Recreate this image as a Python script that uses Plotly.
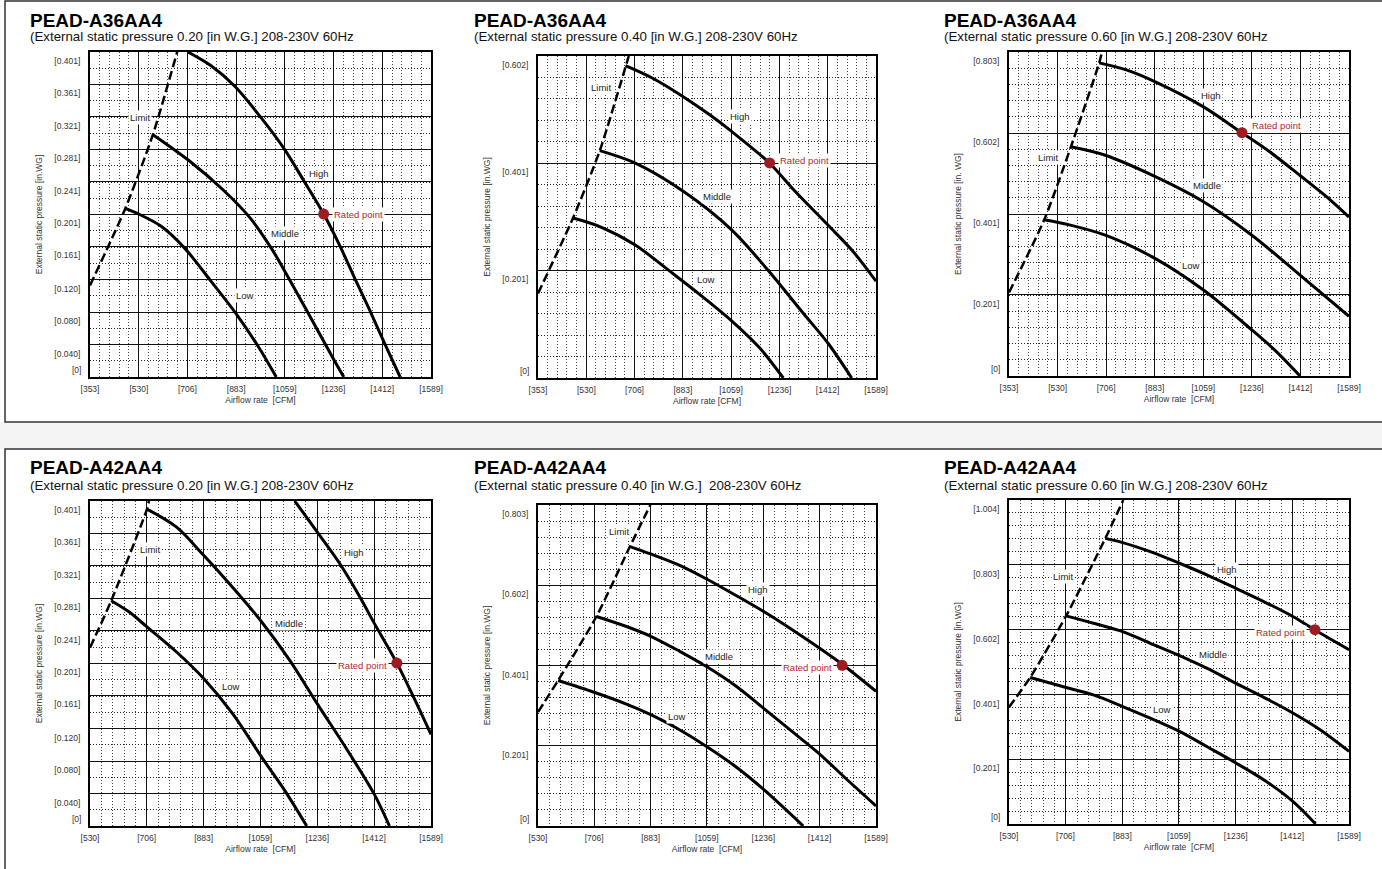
import plotly.graph_objects as go

W, H = 1382, 869
FONT = "Liberation Sans, Arial, Helvetica, sans-serif"

# ---------------- text ----------------
MODELS = ["PEAD-A36AA4", "PEAD-A36AA4", "PEAD-A36AA4",
          "PEAD-A42AA4", "PEAD-A42AA4", "PEAD-A42AA4"]
SUBTITLES = [
    "(External static pressure 0.20 [in W.G.] 208-230V 60Hz",
    "(External static pressure 0.40 [in W.G.] 208-230V 60Hz",
    "(External static pressure 0.60 [in W.G.] 208-230V 60Hz",
    "(External static pressure 0.20 [in W.G.] 208-230V 60Hz",
    "(External static pressure 0.40 [in W.G.]\u00a0 208-230V 60Hz",
    "(External static pressure 0.60 [in W.G.] 208-230V 60Hz",
]
X_TITLES = ["Airflow rate\u00a0 [CFM]", "Airflow rate [CFM]", "Airflow rate\u00a0 [CFM]",
            "Airflow rate\u00a0 [CFM]", "Airflow rate\u00a0 [CFM]", "Airflow rate\u00a0 [CFM]"]
Y_TITLES = ["External static pressure [in.WG]", "External static pressure [in.WG]",
            "External static pressure [in. WG]", "External static pressure [in.WG]",
            "External static pressure [in.WG]", "External static pressure [in.WG]"]
CURVE_NAMES = ["Limit", "High", "Middle", "Low"]

# ---------------- ticks ----------------
XTICKS_A36 = [353, 530, 706, 883, 1059, 1236, 1412, 1589]
XTICKS_A42 = [530, 706, 883, 1059, 1236, 1412, 1589]
YTICKS_100PA = [0, 0.040, 0.080, 0.120, 0.161, 0.201, 0.241, 0.281, 0.321, 0.361, 0.401]
YTICKS_150PA = [0, 0.201, 0.401, 0.602]
YTICKS_200PA = [0, 0.201, 0.401, 0.602, 0.803]
YTICKS_250PA = [0, 0.201, 0.401, 0.602, 0.803, 1.004]

# ---------------- data: PEAD-A36AA4, 0.20 ----------------
A36_020_LIMIT_CFM = [353, 481, 581, 669]
A36_020_LIMIT_WG = [0.113, 0.208, 0.299, 0.401]
A36_020_HIGH_CFM = [708, 792, 877, 973, 1060, 1130, 1200, 1257, 1311, 1366, 1420, 1477]
A36_020_HIGH_WG = [0.401, 0.384, 0.359, 0.320, 0.280, 0.241, 0.201, 0.163, 0.123, 0.083, 0.042, 0.0]
A36_020_MID_CFM = [581, 708, 835, 934, 1010, 1060, 1142, 1236, 1273]
A36_020_MID_WG = [0.299, 0.268, 0.231, 0.196, 0.159, 0.130, 0.080, 0.022, 0.0]
A36_020_LOW_CFM = [481, 530, 611, 696, 792, 883, 964, 1028]
A36_020_LOW_WG = [0.208, 0.201, 0.186, 0.159, 0.118, 0.078, 0.037, 0.0]
A36_020_LABEL_CFM = [533, 1182, 1058, 913]
A36_020_LABEL_WG = [0.320, 0.251, 0.177, 0.101]

# ---------------- data: PEAD-A36AA4, 0.40 ----------------
A36_040_LIMIT_CFM = [353, 481, 579, 685]
A36_040_LIMIT_WG = [0.158, 0.299, 0.425, 0.602]
A36_040_HIGH_CFM = [673, 774, 884, 981, 1061, 1199, 1293, 1415, 1506, 1589]
A36_040_HIGH_WG = [0.584, 0.560, 0.526, 0.492, 0.461, 0.402, 0.349, 0.285, 0.236, 0.181]
A36_040_MID_CFM = [579, 707, 884, 1061, 1195, 1323, 1415, 1500]
A36_040_MID_WG = [0.425, 0.402, 0.349, 0.277, 0.201, 0.121, 0.064, 0.0]
A36_040_LOW_CFM = [481, 579, 707, 847, 945, 1061, 1164, 1250]
A36_040_LOW_WG = [0.299, 0.283, 0.249, 0.195, 0.156, 0.107, 0.056, 0.0]
A36_040_LABEL_CFM = [582, 1091, 1006, 969]
A36_040_LABEL_WG = [0.544, 0.489, 0.339, 0.184]

# ---------------- data: PEAD-A36AA4, 0.60 ----------------
A36_060_LIMIT_CFM = [353, 481, 578, 681, 691]
A36_060_LIMIT_WG = [0.207, 0.387, 0.568, 0.776, 0.803]
A36_060_HIGH_CFM = [681, 782, 885, 1060, 1199, 1302, 1411, 1508, 1589]
A36_060_HIGH_WG = [0.776, 0.758, 0.729, 0.667, 0.603, 0.555, 0.497, 0.444, 0.394]
A36_060_MID_CFM = [578, 703, 885, 1060, 1236, 1411, 1589]
A36_060_MID_WG = [0.568, 0.547, 0.494, 0.432, 0.349, 0.250, 0.148]
A36_060_LOW_CFM = [481, 576, 703, 885, 1060, 1236, 1326, 1411]
A36_060_LOW_WG = [0.387, 0.374, 0.349, 0.291, 0.213, 0.114, 0.060, 0.0]
A36_060_LABEL_CFM = [495, 1088, 1072, 1015]
A36_060_LABEL_WG = [0.541, 0.696, 0.471, 0.275]

# ---------------- data: PEAD-A42AA4, 0.20 ----------------
A42_020_LIMIT_CFM = [530, 596, 707, 713]
A42_020_LIMIT_WG = [0.220, 0.278, 0.391, 0.401]
A42_020_HIGH_CFM = [1166, 1237, 1307, 1369, 1413, 1483, 1535, 1589]
A42_020_HIGH_WG = [0.401, 0.362, 0.323, 0.282, 0.250, 0.201, 0.159, 0.113]
A42_020_MID_CFM = [707, 798, 883, 974, 1061, 1151, 1237, 1327, 1413, 1460]
A42_020_MID_WG = [0.391, 0.369, 0.334, 0.294, 0.253, 0.204, 0.150, 0.095, 0.039, 0.0]
A42_020_LOW_CFM = [596, 652, 706, 798, 883, 974, 1063, 1141, 1203]
A42_020_LOW_WG = [0.278, 0.264, 0.246, 0.215, 0.182, 0.138, 0.085, 0.040, 0.0]
A42_020_LABEL_CFM = [715, 1351, 1148, 967]
A42_020_LABEL_WG = [0.341, 0.338, 0.250, 0.172]

# ---------------- data: PEAD-A42AA4, 0.40 ----------------
A42_040_LIMIT_CFM = [530, 593, 713, 818, 882]
A42_040_LIMIT_WG = [0.285, 0.364, 0.524, 0.699, 0.803]
A42_040_HIGH_CFM = [818, 885, 974, 1058, 1152, 1236, 1330, 1408, 1484, 1589]
A42_040_HIGH_WG = [0.699, 0.680, 0.652, 0.618, 0.576, 0.537, 0.489, 0.447, 0.404, 0.337]
A42_040_MID_CFM = [713, 807, 885, 974, 1058, 1152, 1236, 1319, 1408, 1497, 1589]
A42_040_MID_WG = [0.524, 0.499, 0.474, 0.437, 0.399, 0.349, 0.295, 0.241, 0.183, 0.117, 0.050]
A42_040_LOW_CFM = [593, 708, 807, 885, 964, 1058, 1152, 1236, 1361]
A42_040_LOW_WG = [0.364, 0.334, 0.305, 0.278, 0.245, 0.199, 0.147, 0.092, 0.0]
A42_040_LABEL_CFM = [783, 1220, 1098, 967]
A42_040_LABEL_WG = [0.736, 0.591, 0.423, 0.275]

# ---------------- data: PEAD-A42AA4, 0.60 ----------------
A42_060_LIMIT_CFM = [530, 596, 708, 830, 886]
A42_060_LIMIT_WG = [0.362, 0.454, 0.645, 0.885, 1.004]
A42_060_HIGH_CFM = [830, 884, 970, 1061, 1146, 1237, 1328, 1414, 1483, 1589]
A42_060_HIGH_WG = [0.885, 0.872, 0.844, 0.808, 0.772, 0.730, 0.687, 0.643, 0.601, 0.540]
A42_060_MID_CFM = [708, 793, 884, 970, 1061, 1146, 1237, 1328, 1414, 1499, 1589]
A42_060_MID_WG = [0.645, 0.622, 0.596, 0.560, 0.522, 0.483, 0.436, 0.390, 0.344, 0.292, 0.225]
A42_060_LOW_CFM = [596, 708, 793, 884, 970, 1061, 1146, 1237, 1328, 1414, 1485]
A42_060_LOW_WG = [0.454, 0.423, 0.400, 0.364, 0.328, 0.287, 0.240, 0.189, 0.134, 0.070, 0.0]
A42_060_LABEL_CFM = [698, 1210, 1165, 1006]
A42_060_LABEL_WG = [0.766, 0.790, 0.524, 0.354]

# ---------------- rated points ----------------
RATED_CFM = [1200, 1200, 1200, 1483, 1483, 1483]
RATED_WG = [0.201, 0.402, 0.603, 0.201, 0.402, 0.602]

# ---------------- layout constants (pixels) ----------------
PLOT_LEFT = [90, 538, 1009, 90, 538, 1009]
PLOT_RIGHT = [431, 876, 1349, 431, 876, 1349]
PLOT_TOP = [52, 56, 52, 501, 505, 500]
PLOT_BOTTOM = [377, 378, 376, 826, 826, 824]
TITLE_X = [28, 472, 942, 28, 472, 942]
TITLE_Y = [20, 20, 20, 468, 468, 468]
SUB_Y = [37, 37, 37, 485, 485, 485]
RATED_SIDE = ["right", "right", "right", "left", "left", "left"]
RATED_YSHIFT = [0, 2, 7, -2, -2, -3]
MINOR_PER_MAJOR_Y = [2, 5, 5, 2, 5, 5]

panels = [
    dict(xt=XTICKS_A36, yt=YTICKS_100PA,
         curves=[(A36_020_LIMIT_CFM, A36_020_LIMIT_WG), (A36_020_HIGH_CFM, A36_020_HIGH_WG),
                 (A36_020_MID_CFM, A36_020_MID_WG), (A36_020_LOW_CFM, A36_020_LOW_WG)],
         lx=A36_020_LABEL_CFM, ly=A36_020_LABEL_WG),
    dict(xt=XTICKS_A36, yt=YTICKS_150PA,
         curves=[(A36_040_LIMIT_CFM, A36_040_LIMIT_WG), (A36_040_HIGH_CFM, A36_040_HIGH_WG),
                 (A36_040_MID_CFM, A36_040_MID_WG), (A36_040_LOW_CFM, A36_040_LOW_WG)],
         lx=A36_040_LABEL_CFM, ly=A36_040_LABEL_WG),
    dict(xt=XTICKS_A36, yt=YTICKS_200PA,
         curves=[(A36_060_LIMIT_CFM, A36_060_LIMIT_WG), (A36_060_HIGH_CFM, A36_060_HIGH_WG),
                 (A36_060_MID_CFM, A36_060_MID_WG), (A36_060_LOW_CFM, A36_060_LOW_WG)],
         lx=A36_060_LABEL_CFM, ly=A36_060_LABEL_WG),
    dict(xt=XTICKS_A42, yt=YTICKS_100PA,
         curves=[(A42_020_LIMIT_CFM, A42_020_LIMIT_WG), (A42_020_HIGH_CFM, A42_020_HIGH_WG),
                 (A42_020_MID_CFM, A42_020_MID_WG), (A42_020_LOW_CFM, A42_020_LOW_WG)],
         lx=A42_020_LABEL_CFM, ly=A42_020_LABEL_WG),
    dict(xt=XTICKS_A42, yt=YTICKS_200PA,
         curves=[(A42_040_LIMIT_CFM, A42_040_LIMIT_WG), (A42_040_HIGH_CFM, A42_040_HIGH_WG),
                 (A42_040_MID_CFM, A42_040_MID_WG), (A42_040_LOW_CFM, A42_040_LOW_WG)],
         lx=A42_040_LABEL_CFM, ly=A42_040_LABEL_WG),
    dict(xt=XTICKS_A42, yt=YTICKS_250PA,
         curves=[(A42_060_LIMIT_CFM, A42_060_LIMIT_WG), (A42_060_HIGH_CFM, A42_060_HIGH_WG),
                 (A42_060_MID_CFM, A42_060_MID_WG), (A42_060_LOW_CFM, A42_060_LOW_WG)],
         lx=A42_060_LABEL_CFM, ly=A42_060_LABEL_WG),
]

fig = go.Figure()
layout = dict(
    width=W, height=H, autosize=False, margin=dict(l=0, r=0, t=0, b=0, pad=0),
    paper_bgcolor="white", plot_bgcolor="white",
    font=dict(family=FONT, color="#333"), showlegend=False,
)
annotations = []


def px(x):
    return x / W


def py(y):
    return 1 - y / H


# page frames: open paths staying inside the paper
shapes = [
    dict(type="rect", xref="paper", yref="paper", x0=0, x1=1,
         y0=py(449), y1=py(422), fillcolor="#f4f4f4", line=dict(width=0), layer="below"),
    dict(type="path", xref="paper", yref="paper", layer="below",
         path=f"M 1,{py(1)} L {px(5)},{py(1)} L {px(5)},{py(422)} L 1,{py(422)}",
         line=dict(color="#333", width=1.5)),
    dict(type="path", xref="paper", yref="paper", layer="below",
         path=f"M 1,{py(449)} L {px(5)},{py(449)} L {px(5)},0",
         line=dict(color="#333", width=1.5)),
]

for i, p in enumerate(panels):
    n = i + 1
    xa = "x" if n == 1 else f"x{n}"
    ya = "y" if n == 1 else f"y{n}"
    xt, yt = p["xt"], p["yt"]
    xmin, xmax = xt[0], xt[-1]
    ymax = yt[-1]
    n_major_y = len(yt) - 1
    layout["xaxis" if n == 1 else f"xaxis{n}"] = dict(
        domain=[px(PLOT_LEFT[i]), px(PLOT_RIGHT[i])], anchor=ya, automargin=False,
        range=[xmin, xmax], tickmode="array", tickvals=xt,
        ticktext=[f"[{v}]" for v in xt], ticks="",
        showgrid=True, gridcolor="#111", gridwidth=1.2, zeroline=False,
        minor=dict(tick0=xmin, dtick=(xmax - xmin) / ((len(xt) - 1) * 5), showgrid=True,
                   gridcolor="#444", griddash="1px,2px", gridwidth=1, ticks=""),
        showline=True, mirror=True, linecolor="#000", linewidth=2,
        tickfont=dict(size=8.5, color="#333", family=FONT), ticklabelstandoff=3,
        title=dict(text=X_TITLES[i], font=dict(size=8.5, color="#333", family=FONT), standoff=4),
        fixedrange=True,
    )
    layout["yaxis" if n == 1 else f"yaxis{n}"] = dict(
        domain=[py(PLOT_BOTTOM[i]), py(PLOT_TOP[i])], anchor=xa, automargin=False,
        range=[0, ymax], tickmode="array", tickvals=yt[1:],
        ticktext=[f"[{v:.3f}]" for v in yt[1:]], ticks="",
        showgrid=True, gridcolor="#111", gridwidth=1.2, zeroline=False,
        minor=dict(tick0=0, dtick=ymax / (n_major_y * MINOR_PER_MAJOR_Y[i]), showgrid=True,
                   gridcolor="#222", griddash="1px,2px", gridwidth=1, ticks=""),
        showline=True, mirror=True, linecolor="#000", linewidth=2,
        tickfont=dict(size=8.5, color="#333", family=FONT), ticklabelstandoff=6,
        ticklabelshift=9,
        title=dict(text=Y_TITLES[i], font=dict(size=8.5, color="#333", family=FONT), standoff=10),
        fixedrange=True,
    )
    # "[0]" label sits just above the bottom edge
    annotations.append(dict(xref=f"{xa} domain", yref=ya, x=0, y=0, xanchor="right",
                            yanchor="bottom", xshift=-7, yshift=0, text="[0]", showarrow=False,
                            font=dict(size=8.5, color="#333", family=FONT)))

    for k, (cx, cy) in enumerate(p["curves"]):
        if k == 0:
            line = dict(color="#000", width=2.5, dash="9px,4px", shape="spline", smoothing=0.6)
        else:
            line = dict(color="#000", width=3, shape="spline", smoothing=0.9)
        fig.add_trace(go.Scatter(x=cx, y=cy, mode="lines", line=line, xaxis=xa, yaxis=ya,
                                 hoverinfo="skip", name=CURVE_NAMES[k]))
    fig.add_trace(go.Scatter(x=[RATED_CFM[i]], y=[RATED_WG[i]], mode="markers",
                             marker=dict(size=11, color="#9e1c20"), xaxis=xa, yaxis=ya,
                             hoverinfo="skip", name="Rated point", cliponaxis=False))

    for k, name in enumerate(CURVE_NAMES):
        annotations.append(dict(xref=xa, yref=ya, x=p["lx"][k], y=p["ly"][k], text=name,
                                showarrow=False, bgcolor="white", borderpad=1,
                                font=dict(size=9.5, color="#222", family=FONT)))
    right = RATED_SIDE[i] == "right"
    annotations.append(dict(xref=xa, yref=ya, x=RATED_CFM[i], y=RATED_WG[i], text="Rated point",
                            showarrow=False, xanchor="left" if right else "right",
                            xshift=8 if right else -8, yshift=RATED_YSHIFT[i],
                            bgcolor="white", borderpad=1,
                            font=dict(size=9.5, color="#b2282d", family=FONT)))

    annotations.append(dict(xref="paper", yref="paper", x=px(TITLE_X[i]), y=py(TITLE_Y[i]),
                            xanchor="left", yanchor="middle", text=f"<b>{MODELS[i]}</b>",
                            showarrow=False, font=dict(size=19, color="#000", family=FONT)))
    annotations.append(dict(xref="paper", yref="paper", x=px(TITLE_X[i]), y=py(SUB_Y[i]),
                            xanchor="left", yanchor="middle", text=SUBTITLES[i],
                            showarrow=False, font=dict(size=13.3, color="#111", family=FONT)))

layout["annotations"] = annotations
layout["shapes"] = shapes
fig.update_layout(**layout)
fig.write_html(
    "out.html",
    config={"displayModeBar": False, "responsive": False},
    post_script=(
        "document.body.style.margin='0';document.body.style.padding='0';"
        "document.documentElement.style.overflow='hidden';"
        "var gd=document.getElementById('{plot_id}');"
        "gd.style.position='absolute';gd.style.left='0px';gd.style.top='0px';"
    ),
)
